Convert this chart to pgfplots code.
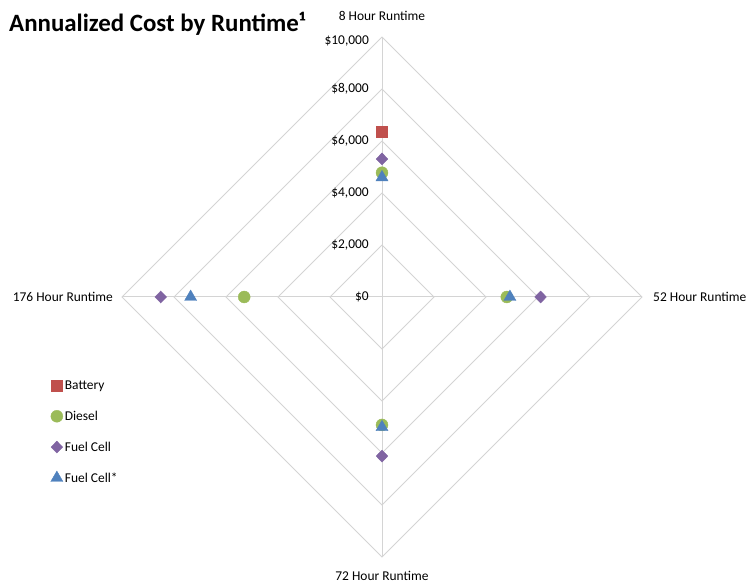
\documentclass[border=0pt]{standalone}
\usepackage{pgfplots}
\pgfplotsset{compat=1.18}
\usepackage{fontspec}
\setmainfont{Carlito}
\definecolor{cBat}{HTML}{C0504D}
\definecolor{cDie}{HTML}{9BBB59}
\definecolor{cFC}{HTML}{8064A2}
\definecolor{cFCs}{HTML}{4F81BD}
\definecolor{cGrid}{HTML}{D4D4D4}
\begin{document}
\begin{tikzpicture}[font=\fontsize{13.5}{16}\selectfont]
\useasboundingbox (0bp,0bp) rectangle (749bp,584bp);
\begin{axis}[
  at={(382bp,287bp)}, anchor=center,
  scale only axis, width=520bp, height=520bp,
  xmin=-10000, xmax=10000, ymin=-10000, ymax=10000,
  hide axis, clip=false,
  legend style={at={(axis description cs:-0.143,0.347)}, anchor=north west,
    draw=none, fill=none, row sep=16bp, font=\fontsize{13.5}{16}\selectfont},
  legend cell align=left,
  legend image code/.code={\draw[#1] plot coordinates {(0pt,0pt)};},
]
% grid
\addplot[cGrid, line width=1bp, forget plot] coordinates {(0,2000) (2000,0) (0,-2000) (-2000,0) (0,2000)};
\addplot[cGrid, line width=1bp, forget plot] coordinates {(0,4000) (4000,0) (0,-4000) (-4000,0) (0,4000)};
\addplot[cGrid, line width=1bp, forget plot] coordinates {(0,6000) (6000,0) (0,-6000) (-6000,0) (0,6000)};
\addplot[cGrid, line width=1bp, forget plot] coordinates {(0,8000) (8000,0) (0,-8000) (-8000,0) (0,8000)};
\addplot[cGrid, line width=1bp, forget plot] coordinates {(0,10000) (10000,0) (0,-10000) (-10000,0) (0,10000)};
\addplot[cGrid, line width=1bp, forget plot] coordinates {(0,10000) (0,-10000)};
\addplot[cGrid, line width=1bp, forget plot] coordinates {(-10000,0) (10000,0)};
% data
\addplot[only marks, mark=square*, mark size=5.5, color=cBat] coordinates {(0,6350)};
\addlegendentry{Battery}
\addplot[only marks, mark=*, mark size=6, color=cDie] coordinates {(0,4780) (4800,0) (0,-4920) (-5300,0)};
\addlegendentry{Diesel}
\addplot[only marks, mark=diamond*, mark size=6, mark options={xscale=1.3}, color=cFC] coordinates {(0,5310) (6100,0) (0,-6120) (-8510,0)};
\addlegendentry{Fuel Cell}
\addplot[only marks, mark=triangle*, mark size=7, color=cFCs] coordinates {(0,4600) (4920,0) (0,-5010) (-7360,0)};
\addlegendentry{Fuel Cell*}
\end{axis}
\begin{scope}[x=1bp,y=1bp]
% value labels
\node[anchor=east, inner sep=0] at (369,287) {\$0};
\node[anchor=east, inner sep=0] at (369,339) {\$2,000};
\node[anchor=east, inner sep=0] at (369,391) {\$4,000};
\node[anchor=east, inner sep=0] at (369,443) {\$6,000};
\node[anchor=east, inner sep=0] at (369,495) {\$8,000};
\node[anchor=east, inner sep=0] at (369,543) {\$10,000};
% category labels
\node[inner sep=0] at (382,568) {8 Hour Runtime};
\node[anchor=west, inner sep=0] at (653,287) {52 Hour Runtime};
\node[anchor=east, inner sep=0] at (113,287) {176 Hour Runtime};
\node[inner sep=0] at (382,8) {72 Hour Runtime};
% title
\node[anchor=base west, inner sep=0, font=\bfseries\fontsize{25}{30}\selectfont] at (9,552) {Annualized Cost by Runtime¹};
\end{scope}
\end{tikzpicture}
\end{document}
